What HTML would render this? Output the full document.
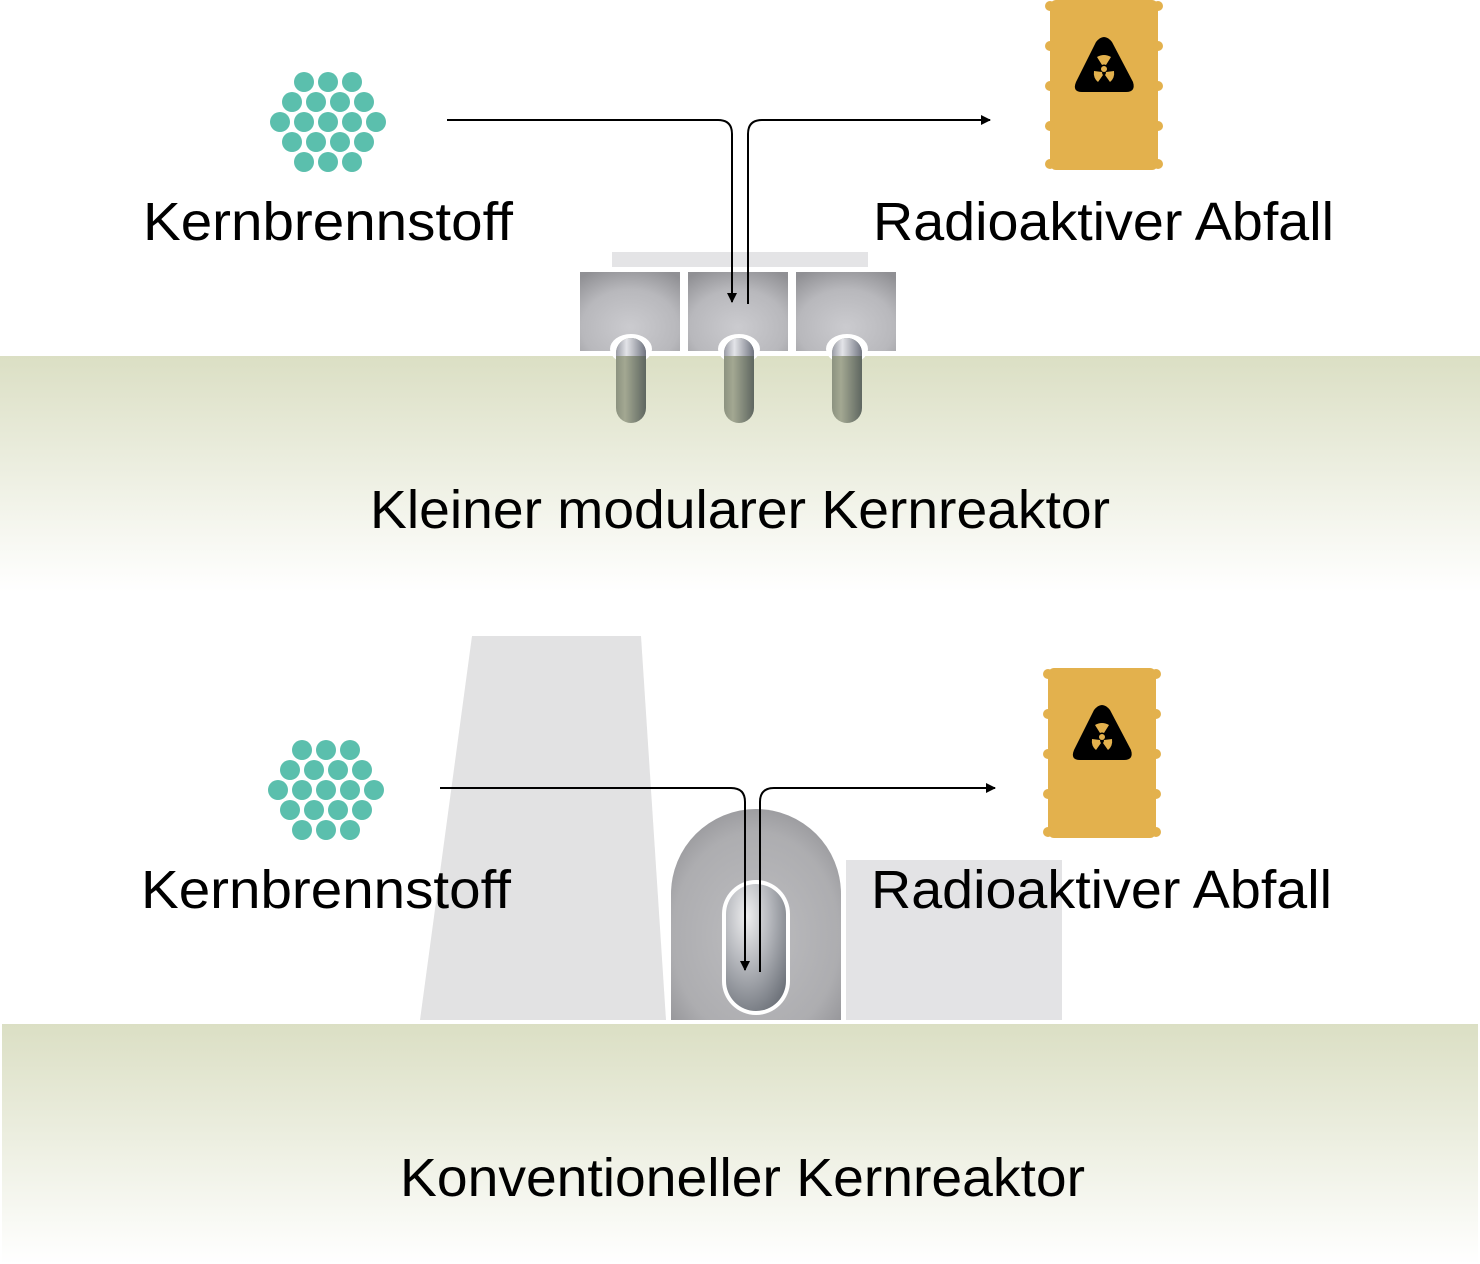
<!DOCTYPE html>
<html><head><meta charset="utf-8"><style>
html,body{margin:0;padding:0;background:#fff}
svg{display:block}
text{font-family:"Liberation Sans",sans-serif;fill:#000}
</style></head><body>
<svg width="1480" height="1264" viewBox="0 0 1480 1264" xmlns="http://www.w3.org/2000/svg">
<defs>
<linearGradient id="ground" x1="0" y1="0" x2="0" y2="1">
<stop offset="0" stop-color="#dbdfc4"/><stop offset="1" stop-color="#ffffff"/></linearGradient>
<radialGradient id="box" cx="0.5" cy="0.7" r="0.8">
<stop offset="0" stop-color="#cbcbcf"/><stop offset="0.6" stop-color="#b8b8bc"/><stop offset="1" stop-color="#909094"/></radialGradient>
<linearGradient id="caps" x1="0" y1="0" x2="1" y2="0">
<stop offset="0" stop-color="#8c9280"/><stop offset="0.3" stop-color="#a3a892"/><stop offset="1" stop-color="#5e6660"/></linearGradient>
<linearGradient id="capsTop" x1="0" y1="0" x2="1" y2="0">
<stop offset="0" stop-color="#9a9ca6"/><stop offset="0.35" stop-color="#e3e4e8"/><stop offset="1" stop-color="#707480"/></linearGradient>
<radialGradient id="dome" cx="0.5" cy="0.6" r="0.7">
<stop offset="0" stop-color="#bdbdc0"/><stop offset="0.7" stop-color="#adadb0"/><stop offset="1" stop-color="#8f8f93"/></radialGradient>
<radialGradient id="core" cx="0.35" cy="0.25" r="0.9">
<stop offset="0" stop-color="#eeeeef"/><stop offset="0.4" stop-color="#b9bbc0"/><stop offset="1" stop-color="#666b73"/></radialGradient>
<marker id="ah" viewBox="0 0 10 10" refX="9" refY="5" markerWidth="10" markerHeight="10" markerUnits="userSpaceOnUse" orient="auto"><path d="M0,0 L10,5 L0,10 z" fill="#000"/></marker>
<g id="fuel" fill="#5bbfad">
<circle cx="-24" cy="-40" r="10"/><circle cx="0" cy="-40" r="10"/><circle cx="24" cy="-40" r="10"/>
<circle cx="-36" cy="-20" r="10"/><circle cx="-12" cy="-20" r="10"/><circle cx="12" cy="-20" r="10"/><circle cx="36" cy="-20" r="10"/>
<circle cx="-48" cy="0" r="10"/><circle cx="-24" cy="0" r="10"/><circle cx="0" cy="0" r="10"/><circle cx="24" cy="0" r="10"/><circle cx="48" cy="0" r="10"/>
<circle cx="-36" cy="20" r="10"/><circle cx="-12" cy="20" r="10"/><circle cx="12" cy="20" r="10"/><circle cx="36" cy="20" r="10"/>
<circle cx="-24" cy="40" r="10"/><circle cx="0" cy="40" r="10"/><circle cx="24" cy="40" r="10"/>
</g>
<g id="barrel">
<rect x="4" y="0" width="108" height="170" rx="6" fill="#e3b14d"/>
<g fill="#e3b14d">
<circle cx="4" cy="6" r="5"/><circle cx="112" cy="6" r="5"/>
<circle cx="4" cy="46" r="5"/><circle cx="112" cy="46" r="5"/>
<circle cx="4" cy="86" r="5"/><circle cx="112" cy="86" r="5"/>
<circle cx="4" cy="126" r="5"/><circle cx="112" cy="126" r="5"/>
<circle cx="4" cy="164" r="5"/><circle cx="112" cy="164" r="5"/>
</g>
<path d="M50,42 Q58,32 66,42 L87,82 Q90,92 80,92 L36,92 Q26,92 30,82 Z" fill="#000"/>
<g fill="#e3b14d">
<circle cx="58" cy="69" r="3"/>
<path d="M51,57 Q58,53 65,57 L60,65 Q58,64 56,65 Z"/>
<path d="M48,71 L56,72 Q56,74 57,75 L52,82 Q47,78 48,71 Z"/>
<path d="M68,71 L60,72 Q60,74 59,75 L64,82 Q69,78 68,71 Z"/>
</g>
</g>
</defs>

<rect x="0" y="356" width="1480" height="236" fill="url(#ground)"/>
<rect x="2" y="1024" width="1476" height="240" fill="url(#ground)"/>

<use href="#fuel" x="328" y="122"/>
<use href="#barrel" x="1046" y="0"/>
<text x="143" y="240" font-size="54" textLength="370" lengthAdjust="spacingAndGlyphs">Kernbrennstoff</text>
<text x="873" y="240" font-size="54" textLength="461" lengthAdjust="spacingAndGlyphs">Radioaktiver Abfall</text>

<rect x="612" y="252" width="256" height="15" fill="#e4e4e6"/>
<rect x="580" y="272" width="100" height="79" fill="url(#box)"/>
<rect x="688" y="272" width="100" height="79" fill="url(#box)"/>
<rect x="796" y="272" width="100" height="79" fill="url(#box)"/>
<g>
<rect x="610" y="334" width="42" height="30" rx="21" fill="#fff"/>
<rect x="616" y="338" width="30" height="85" rx="15" fill="url(#caps)"/>
<path d="M616,356 V353 a15,15 0 0 1 30,0 V356 Z" fill="url(#capsTop)"/>
<rect x="718" y="334" width="42" height="30" rx="21" fill="#fff"/>
<rect x="724" y="338" width="30" height="85" rx="15" fill="url(#caps)"/>
<path d="M724,356 V353 a15,15 0 0 1 30,0 V356 Z" fill="url(#capsTop)"/>
<rect x="826" y="334" width="42" height="30" rx="21" fill="#fff"/>
<rect x="832" y="338" width="30" height="85" rx="15" fill="url(#caps)"/>
<path d="M832,356 V353 a15,15 0 0 1 30,0 V356 Z" fill="url(#capsTop)"/>
</g>
<path d="M447,120 H718 Q732,120 732,134 V302" fill="none" stroke="#000" stroke-width="2" marker-end="url(#ah)"/>
<path d="M748,304 V134 Q748,120 762,120 H990" fill="none" stroke="#000" stroke-width="2" marker-end="url(#ah)"/>
<text x="370" y="528" font-size="54" textLength="740" lengthAdjust="spacingAndGlyphs">Kleiner modularer Kernreaktor</text>

<polygon points="472,636 641,636 666,1020 420,1020" fill="#e2e2e3"/>
<rect x="846" y="860" width="216" height="160" fill="#e3e3e5"/>
<path d="M668,1020 V894 a86,86 0 0 1 176,0 V1020 Z" fill="#fff"/>
<path d="M671,1020 V894 a83,83 0 0 1 170,0 V1020 Z" fill="url(#dome)"/>
<rect x="722" y="880" width="68" height="135" rx="34" fill="#fff"/>
<rect x="726" y="884" width="60" height="127" rx="30" fill="url(#core)"/>
<use href="#fuel" x="326" y="790"/>
<use href="#barrel" x="1044" y="668"/>
<text x="141" y="908" font-size="54" textLength="370" lengthAdjust="spacingAndGlyphs">Kernbrennstoff</text>
<text x="871" y="908" font-size="54" textLength="461" lengthAdjust="spacingAndGlyphs">Radioaktiver Abfall</text>
<path d="M440,788 H731 Q745,788 745,802 V970" fill="none" stroke="#000" stroke-width="2" marker-end="url(#ah)"/>
<path d="M760,972 V802 Q760,788 774,788 H995" fill="none" stroke="#000" stroke-width="2" marker-end="url(#ah)"/>
<text x="400" y="1196" font-size="54" textLength="685" lengthAdjust="spacingAndGlyphs">Konventioneller Kernreaktor</text>
</svg>
</body></html>
